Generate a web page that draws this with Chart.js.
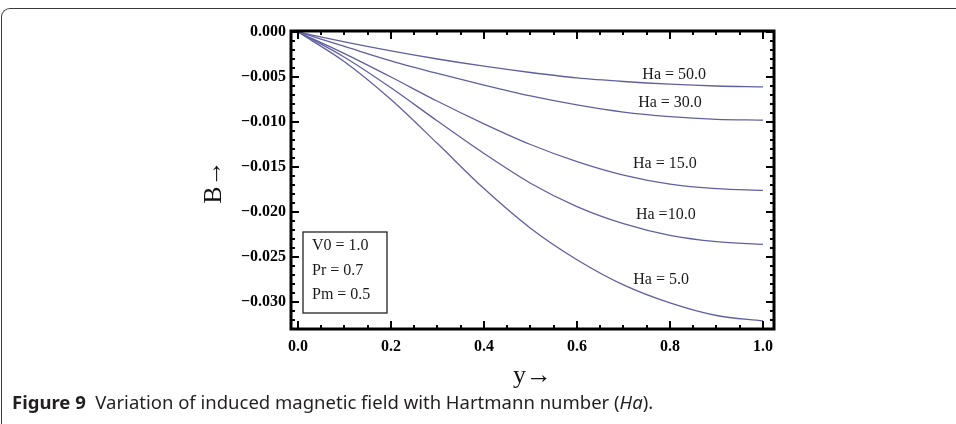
<!DOCTYPE html>
<html>
<head>
<meta charset="utf-8">
<script src="https://cdn.jsdelivr.net/npm/chart.js@4.4.0/dist/chart.umd.min.js"></script>
<style>
  html, body { margin: 0; padding: 0; background: #fff; }
  #wrap { position: relative; width: 956px; height: 424px; overflow: hidden; }
  #panel { position: absolute; left: 1px; top: 8px; width: 1000px; height: 500px;
           border-top: 1.5px solid #3a3a3a; border-left: 1.5px solid #3a3a3a; border-top-left-radius: 9px; }
  #cv { position: absolute; left: 0; top: 0; }
  #caption { position: absolute; left: 12px; top: 389px; font-family: 'Noto Sans', sans-serif;
             font-size: 18.5px; line-height: 25px; color: #231f20; white-space: nowrap; }
</style>
</head>
<body>
<div id="wrap">
  <div id="panel"></div>
  <canvas id="cv" width="956" height="424"></canvas>
  <div id="caption"><b>Figure 9</b>&nbsp; Variation of induced magnetic field with Hartmann number (<i>Ha</i>).</div>
</div>
<script>
// Position across the channel
const yPos = [0, 0.1, 0.2, 0.3, 0.4, 0.5, 0.6, 0.7, 0.8, 0.9, 1.0];

// Induced magnetic field B for each Hartmann number
const bHa5  = [0, -0.0033, -0.0075, -0.0124, -0.0174, -0.0218, -0.0253, -0.0281, -0.0301, -0.0315, -0.0321];
const bHa10 = [0, -0.0028, -0.0062, -0.0099, -0.0135, -0.0168, -0.0194, -0.0213, -0.0226, -0.0233, -0.0236];
const bHa15 = [0, -0.0024, -0.0050, -0.0077, -0.0102, -0.0125, -0.0144, -0.0159, -0.0169, -0.0174, -0.0176];
const bHa30 = [0, -0.0016, -0.0032, -0.0046, -0.0059, -0.0071, -0.0081, -0.0089, -0.0094, -0.0097, -0.0098];
const bHa50 = [0, -0.0011, -0.0021, -0.0030, -0.0038, -0.0045, -0.0051, -0.0055, -0.0058, -0.0060, -0.0061];

const seriesNames = ['Ha = 5.0', 'Ha =10.0', 'Ha = 15.0', 'Ha = 30.0', 'Ha = 50.0'];
const seriesValues = [bHa5, bHa10, bHa15, bHa30, bHa50];

// Curve label anchors (data coordinates)
const labelX = [0.781, 0.791, 0.789, 0.800, 0.809];
const labelY = [-0.02756, -0.02033, -0.01467, -0.00789, -0.00478];

// Tick labels
const xTicks = [0.0, 0.2, 0.4, 0.6, 0.8, 1.0];
const yTicks = [0.000, -0.005, -0.010, -0.015, -0.020, -0.025, -0.030];

// Parameter box text
const paramLines = ['V0 = 1.0', 'Pr = 0.7', 'Pm = 0.5'];

const lineColor = 'rgb(96,96,160)';
const serif = "'Liberation Serif', 'Times New Roman', serif";

const datasets = seriesValues.map((vals, i) => ({
  label: seriesNames[i],
  data: yPos.map((x, k) => ({ x: x, y: vals[k] })),
  borderColor: lineColor,
  borderWidth: 1.3,
  pointRadius: 0,
  fill: false,
  cubicInterpolationMode: 'monotone'
}));

const minus = v => (v < 0 ? '\u2212' : '');

const framePlugin = {
  id: 'mathFrame',
  afterDraw(chart) {
    const { ctx, chartArea: a, scales: { x, y } } = chart;
    ctx.save();
    ctx.strokeStyle = '#000';
    ctx.lineCap = 'butt';
    const seg = (x1, y1, x2, y2) => { ctx.beginPath(); ctx.moveTo(x1, y1); ctx.lineTo(x2, y2); ctx.stroke(); };

    // inward ticks on all four sides
    ctx.lineWidth = 2;
    for (let i = 0; i <= 20; i++) {
      const v = i * 0.05;
      const len = (i % 4 === 0) ? 8 : 4;
      const px = Math.round(x.getPixelForValue(v));
      seg(px, a.bottom, px, a.bottom - len);
      seg(px, a.top, px, a.top + len);
    }
    for (let i = 0; i <= 32; i++) {
      const v = -i * 0.001;
      const len = (i % 5 === 0) ? 8 : 4;
      const py = Math.round(y.getPixelForValue(v));
      seg(a.left, py, a.left + len, py);
      seg(a.right, py, a.right - len, py);
    }
    // frame
    ctx.lineWidth = 3;
    ctx.strokeRect(a.left, a.top, a.right - a.left, a.bottom - a.top);

    // curve labels
    ctx.fillStyle = '#1a1a1a';
    ctx.font = '16px ' + serif;
    ctx.textAlign = 'center';
    ctx.textBaseline = 'middle';
    seriesNames.forEach((name, i) => {
      ctx.fillText(name, x.getPixelForValue(labelX[i]), y.getPixelForValue(labelY[i]));
    });

    // parameter box
    const bx = a.left + 12, by = a.top + 201, bw = 84, bh = 81;
    ctx.lineWidth = 1.3;
    ctx.strokeStyle = '#222';
    ctx.strokeRect(bx, by, bw, bh);
    ctx.textAlign = 'left';
    paramLines.forEach((t, i) => ctx.fillText(t, bx + 9, by + 14 + i * 24.5));

    // axis titles
    ctx.fillStyle = '#111';
    ctx.font = '26px ' + serif;
    ctx.textAlign = 'center';
    ctx.fillText('y\u2192', (a.left + a.right) / 2, 376);
    ctx.translate(214, (a.top + a.bottom) / 2 + 2);
    ctx.rotate(-Math.PI / 2);
    ctx.fillText('B\u2192', 0, 0);
    ctx.restore();
  }
};

new Chart(document.getElementById('cv'), {
  type: 'line',
  data: { datasets },
  options: {
    responsive: false,
    animation: false,
    events: [],
    layout: { padding: { top: 31, right: 182, bottom: 0, left: 0 } },
    plugins: { legend: { display: false }, tooltip: { enabled: false } },
    scales: {
      x: {
        type: 'linear',
        min: -0.015,
        max: 1.0237,
        grid: { display: false, drawTicks: false },
        border: { display: false },
        afterBuildTicks: s => { s.ticks = xTicks.map(v => ({ value: v })); },
        afterFit: s => { s.height = 95; },
        ticks: {
          padding: 8,
          color: '#000',
          font: { family: serif, size: 16, weight: 'bold' },
          callback: v => minus(v) + Math.abs(v).toFixed(1),
          maxRotation: 0
        }
      },
      y: {
        type: 'linear',
        min: -0.0330,
        max: 0.00011,
        grid: { display: false, drawTicks: false },
        border: { display: false },
        afterBuildTicks: s => { s.ticks = yTicks.map(v => ({ value: v })); },
        afterFit: s => { s.width = 291; },
        ticks: {
          padding: 5,
          color: '#000',
          font: { family: serif, size: 16, weight: 'bold' },
          callback: v => minus(v) + Math.abs(v).toFixed(3)
        }
      }
    }
  },
  plugins: [framePlugin]
});
</script>
</body>
</html>
